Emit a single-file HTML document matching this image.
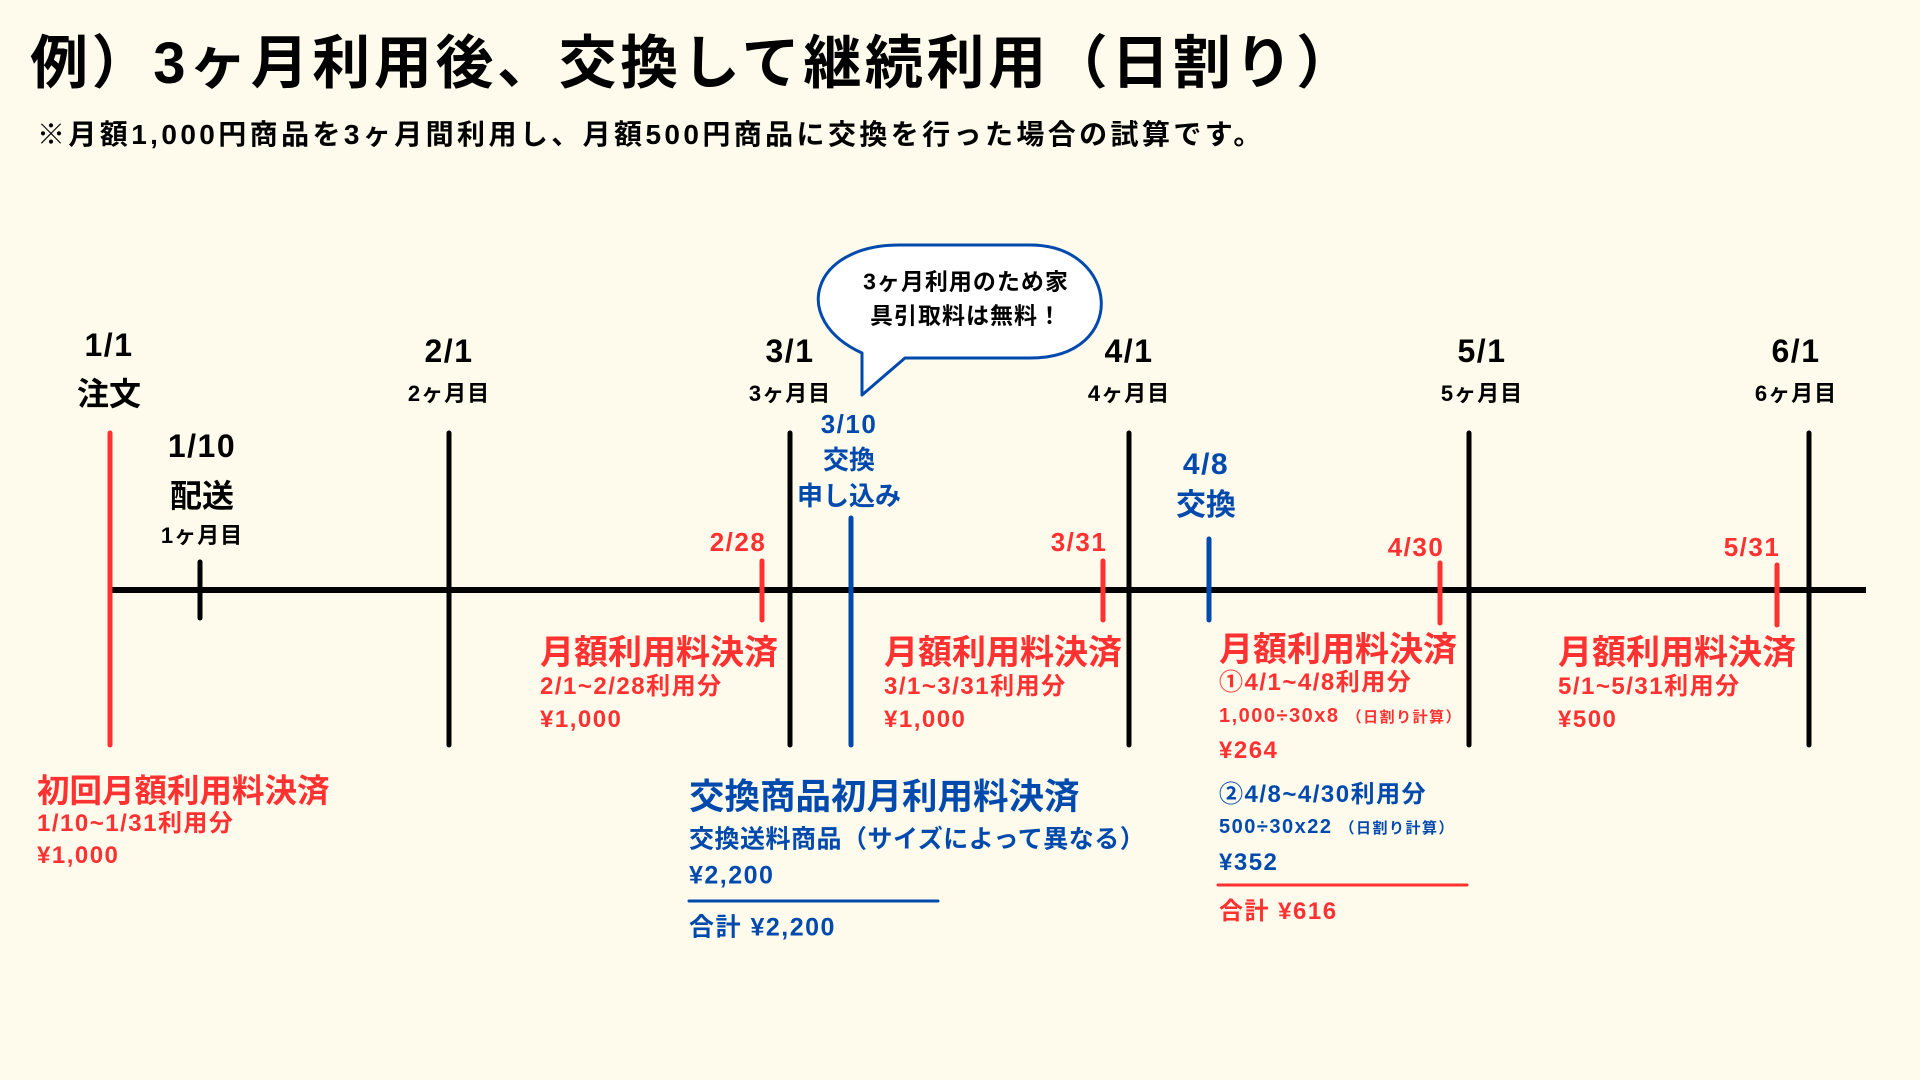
<!DOCTYPE html>
<html><head><meta charset="utf-8"><style>
body{margin:0;width:1920px;height:1080px;background:#fefaec;overflow:hidden;position:relative;font-family:"Liberation Sans","Noto Sans CJK JP",sans-serif;font-weight:bold}
.t{position:absolute;white-space:nowrap;line-height:1}
.c{transform:translate(-50%,-50%)}
.l{transform:translateY(-50%)}
.r{color:#ff3131}.b{color:#004aad}.k{color:#000}
.s{letter-spacing:1.5px}
small{font-size:0.75em}
</style></head><body>
<svg width="1920" height="1080" style="position:absolute;left:0;top:0">
<path d="M862 353 C790 320 810 245 900 245 L1030 245 C1120 245 1130 358 1030 358 L905 358 L862 395 Z" fill="#fff" stroke="#004aad" stroke-width="3" stroke-linejoin="round"/>
<line x1="110" y1="590" x2="1866" y2="590" stroke="#000" stroke-width="6"/>
<g stroke="#000" stroke-width="5" stroke-linecap="round">
<line x1="449" y1="433" x2="449" y2="745"/><line x1="790" y1="433" x2="790" y2="745"/>
<line x1="1129" y1="433" x2="1129" y2="745"/><line x1="1469" y1="433" x2="1469" y2="745"/>
<line x1="1809" y1="433" x2="1809" y2="745"/><line x1="200" y1="562" x2="200" y2="618"/>
</g>
<g stroke="#ff3131" stroke-width="5" stroke-linecap="round">
<line x1="110" y1="433" x2="110" y2="745"/>
<line x1="762" y1="561" x2="762" y2="620"/><line x1="1103" y1="561" x2="1103" y2="620"/>
<line x1="1440" y1="563" x2="1440" y2="623"/><line x1="1777" y1="565" x2="1777" y2="625"/>
<line x1="1218" y1="885" x2="1467" y2="885" stroke-width="3"/>
</g>
<g stroke="#004aad" stroke-width="5" stroke-linecap="round">
<line x1="851" y1="518" x2="851" y2="745"/><line x1="1209" y1="539" x2="1209" y2="620"/>
<line x1="689" y1="901" x2="938" y2="901" stroke-width="3"/>
</g>
</svg>
<div class="t l k" style="left:30px;top:64px;font-size:58px;letter-spacing:3.6px">例）3ヶ月利用後、交換して継続利用（日割り）</div>
<div class="t l k" style="left:37px;top:135px;font-size:28px;letter-spacing:3.4px">※月額1,000円商品を3ヶ月間利用し、月額500円商品に交換を行った場合の試算です。</div>

<div class="t c" style="left:966px;top:282px;font-size:23px;letter-spacing:1px">3ヶ月利用のため家</div>
<div class="t c" style="left:966px;top:316px;font-size:23px;letter-spacing:1px">具引取料は無料！</div>

<div class="t c s" style="left:109px;top:345px;font-size:32px">1/1</div>
<div class="t c" style="left:109px;top:394px;font-size:32px">注文</div>
<div class="t c s" style="left:449px;top:351px;font-size:32px">2/1</div>
<div class="t c" style="left:449px;top:394px;font-size:22px;letter-spacing:1px">2ヶ月目</div>
<div class="t c s" style="left:790px;top:351px;font-size:32px">3/1</div>
<div class="t c" style="left:790px;top:394px;font-size:22px;letter-spacing:1px">3ヶ月目</div>
<div class="t c s" style="left:1129px;top:351px;font-size:32px">4/1</div>
<div class="t c" style="left:1129px;top:394px;font-size:22px;letter-spacing:1px">4ヶ月目</div>
<div class="t c s" style="left:1482px;top:351px;font-size:32px">5/1</div>
<div class="t c" style="left:1482px;top:394px;font-size:22px;letter-spacing:1px">5ヶ月目</div>
<div class="t c s" style="left:1796px;top:351px;font-size:32px">6/1</div>
<div class="t c" style="left:1796px;top:394px;font-size:22px;letter-spacing:1px">6ヶ月目</div>

<div class="t c s" style="left:202px;top:446px;font-size:32px">1/10</div>
<div class="t c" style="left:202px;top:496px;font-size:32px">配送</div>
<div class="t c" style="left:202px;top:536px;font-size:22px;letter-spacing:1px">1ヶ月目</div>

<div class="t c b s" style="left:849px;top:424px;font-size:26px">3/10</div>
<div class="t c b" style="left:849px;top:460px;font-size:26px">交換</div>
<div class="t c b" style="left:849px;top:496px;font-size:26px">申し込み</div>
<div class="t c b s" style="left:1206px;top:465px;font-size:30px">4/8</div>
<div class="t c b" style="left:1206px;top:506px;font-size:30px">交換</div>

<div class="t c r s" style="left:738px;top:542px;font-size:26px">2/28</div>
<div class="t c r s" style="left:1079px;top:542px;font-size:26px">3/31</div>
<div class="t c r s" style="left:1416px;top:547px;font-size:26px">4/30</div>
<div class="t c r s" style="left:1752px;top:547px;font-size:26px">5/31</div>

<div class="t l r" style="left:540px;top:653px;font-size:34px">月額利用料決済</div>
<div class="t l r s" style="left:540px;top:687px;font-size:24px">2/1~2/28利用分</div>
<div class="t l r s" style="left:540px;top:720px;font-size:24px">¥1,000</div>

<div class="t l r" style="left:884px;top:653px;font-size:34px">月額利用料決済</div>
<div class="t l r s" style="left:884px;top:687px;font-size:24px">3/1~3/31利用分</div>
<div class="t l r s" style="left:884px;top:720px;font-size:24px">¥1,000</div>

<div class="t l r" style="left:1219px;top:650px;font-size:34px">月額利用料決済</div>
<div class="t l r s" style="left:1219px;top:683px;font-size:24px">①4/1~4/8利用分</div>
<div class="t l r s" style="left:1219px;top:716px;font-size:20px">1,000÷30x8 <small>（日割り計算）</small></div>
<div class="t l r s" style="left:1219px;top:751px;font-size:24px">¥264</div>
<div class="t l b s" style="left:1219px;top:795px;font-size:24px">②4/8~4/30利用分</div>
<div class="t l b s" style="left:1219px;top:827px;font-size:20px">500÷30x22 <small>（日割り計算）</small></div>
<div class="t l b s" style="left:1219px;top:863px;font-size:24px">¥352</div>
<div class="t l r s" style="left:1219px;top:912px;font-size:24px">合計 ¥616</div>

<div class="t l r" style="left:1558px;top:653px;font-size:34px">月額利用料決済</div>
<div class="t l r s" style="left:1558px;top:687px;font-size:24px">5/1~5/31利用分</div>
<div class="t l r s" style="left:1558px;top:720px;font-size:24px">¥500</div>

<div class="t l r" style="left:37px;top:791px;font-size:32.5px">初回月額利用料決済</div>
<div class="t l r s" style="left:37px;top:824px;font-size:24px">1/10~1/31利用分</div>
<div class="t l r s" style="left:37px;top:856px;font-size:24px">¥1,000</div>

<div class="t l b" style="left:689px;top:797px;font-size:35.5px">交換商品初月利用料決済</div>
<div class="t l b" style="left:689px;top:840px;font-size:25px;letter-spacing:0.5px">交換送料商品（サイズによって異なる）</div>
<div class="t l b s" style="left:689px;top:876px;font-size:25px">¥2,200</div>
<div class="t l b s" style="left:689px;top:928px;font-size:25px">合計 ¥2,200</div>
</body></html>
